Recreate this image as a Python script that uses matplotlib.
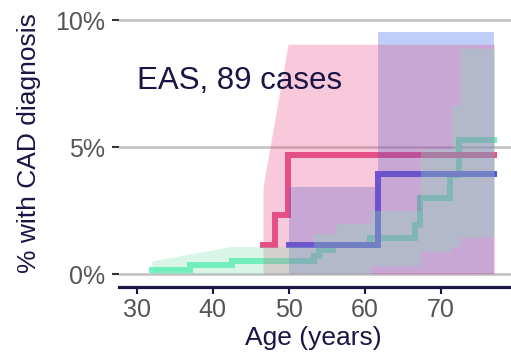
import matplotlib
matplotlib.use("Agg")
import matplotlib.pyplot as plt
import numpy as np

plt.rcParams['font.family'] = ['Liberation Sans', 'DejaVu Sans']

# step curves (age where the step starts, cumulative %)
pink_age = [46.6, 48.2, 49.9, 77.0]
pink_pct = [1.14, 2.32, 4.68, 4.68]
blue_age = [50.0, 61.7, 77.0]
blue_pct = [1.13, 3.92, 3.92]
green_age = [32.0, 37.0, 42.5, 53.3, 54.0, 55.8, 60.7, 66.6, 67.3, 71.2, 72.3, 77.0]
green_pct = [0.17, 0.35, 0.53, 0.72, 0.93, 1.13, 1.40, 1.93, 2.98, 3.90, 5.28, 5.28]

# confidence bands (outline points)
pink_ci_age = [46.6, 49.9, 77.0]
pink_ci_lo = [0.0, 0.0, 0.0]
pink_ci_hi = [3.44, 9.05, 9.05]
blue_ci_age = [50.0, 61.7, 61.7, 77.0]
blue_ci_lo = [0.0, 0.0, 0.0, 0.0]
blue_ci_hi = [3.44, 3.44, 9.54, 9.54]
green_ci_age = [32.0, 42.3, 53.2, 53.2, 56.2, 56.2, 60.7, 60.7, 67.3, 67.3, 71.4, 71.4, 72.5, 72.5, 77.0]
green_ci_lo = [0.0, 0.0, 0.0, 0.0, 0.0, 0.0, 0.0, 0.32, 0.32, 0.88, 0.88, 1.08, 1.08, 1.45, 1.45]
green_ci_hi = [0.52, 1.08, 1.08, 1.6, 1.6, 2.0, 2.0, 2.5, 2.5, 4.9, 4.9, 6.65, 6.65, 8.9, 8.9]

label = "EAS, 89 cases"
navy = "#1c1444"

pink = "#e54f85"
blue = "#3f55ee"
blue_fill = "#2a5fe8"
green = "#6cf5c0"
green_fill = "#82e1b4"

fig = plt.figure(figsize=(5.11, 3.6), dpi=100)
ax = fig.add_axes([119/511, 73/360, 392/511, 287/360])

ax.step(green_age, green_pct, where='post', color=green, lw=4.3, zorder=2, solid_joinstyle='miter')
ax.step(pink_age, pink_pct, where='post', color=pink, lw=4.3, zorder=2, solid_joinstyle='miter')
ax.step(blue_age, blue_pct, where='post', color=blue, lw=4.3, zorder=2, solid_joinstyle='miter')

# bands drawn over the lines: blue, then pink, then green
ax.fill_between(blue_ci_age, blue_ci_lo, blue_ci_hi, color=blue_fill, alpha=0.3, lw=0, zorder=3)
ax.fill_between(pink_ci_age, pink_ci_lo, pink_ci_hi, color=pink, alpha=0.3, lw=0, zorder=3)
ax.fill_between(green_ci_age, green_ci_lo, green_ci_hi, color=green_fill, alpha=0.3, lw=0, zorder=3)

ax.text(30.0, 7.6, label, fontsize=22.5, color=navy, ha='left', va='center')

ax.set_xlim(27.67, 79.2)
ax.set_ylim(-0.51, 10.79)
ax.set_xticks([30, 40, 50, 60, 70])
ax.set_yticks([0, 5, 10])
ax.set_yticklabels(['0%', '5%', '10%'])
ax.grid(axis='y', color='#c0c0c0', lw=1.8, zorder=0)
ax.set_axisbelow(True)

for s in ['top', 'right', 'left']:
    ax.spines[s].set_visible(False)
ax.spines['bottom'].set_color(navy)
ax.spines['bottom'].set_linewidth(2.3)

ax.tick_params(axis='x', colors=navy, length=5, width=1.5, labelsize=18, labelcolor='#555555', pad=3)
ax.tick_params(axis='y', colors='#333333', length=5, width=1.5, labelsize=18, labelcolor='#555555', pad=5)

ax.set_ylabel('% with CAD diagnosis', fontsize=19, color=navy, labelpad=10)
ax.set_xlabel('Age (years)', fontsize=19, color=navy)
ax.xaxis.set_label_coords(0.495, -0.135)

fig.savefig('out.png', dpi=100)
